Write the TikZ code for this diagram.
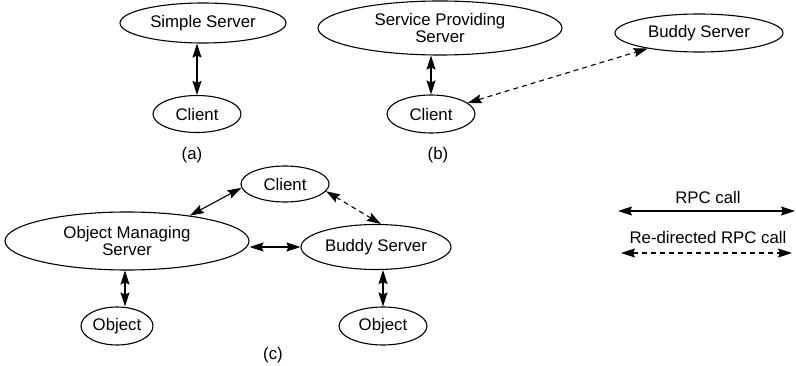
\documentclass[tikz,border=0pt]{standalone}
\usepackage{fontspec}
\setmainfont{Liberation Sans}
\usetikzlibrary{arrows.meta,shapes.geometric}
\begin{document}
\begin{tikzpicture}[x=1pt,y=-1pt,
  every node/.style={font=\fontsize{16.8}{15}\selectfont, inner sep=0pt},
  ell/.style={draw, ellipse, line width=1.1pt, align=center},
  rpc/.style={line width=1.1pt, {Stealth[length=14pt,width=9pt,inset=2pt]}-{Stealth[length=14pt,width=9pt,inset=2pt]}},
  redir/.style={rpc, dash pattern=on 5pt off 4pt}]
\useasboundingbox (0,0) rectangle (796,366);
% (a)
\node[ell, minimum width=166, minimum height=40] (ss) at (203,23) {Simple Server};
\node[ell, minimum width=88, minimum height=37] (ca) at (197,114) {Client};
\node (la) at (192,155) {(a)};
\draw[rpc] (ca.north) -- (ca.north |- ss.south);
% (b)
\node[ell, minimum width=244, minimum height=54] (sps) at (440,28) {Service Providing\\Server};
\node[ell, minimum width=168, minimum height=38] (bb) at (699,33) {Buddy Server};
\node[ell, minimum width=88, minimum height=38] (cb) at (431,114) {Client};
\node (lb) at (438,155) {(b)};
\draw[rpc] (cb.north) -- (cb.north |- sps.south);
\draw[redir] (cb) -- (bb);
% (c)
\node[ell, minimum width=88, minimum height=36] (cc) at (285,184) {Client};
\node[ell, minimum width=244, minimum height=58] (oms) at (127,241) {Object Managing\\Server};
\node[ell, minimum width=150, minimum height=45] (bc) at (376,247) {Buddy Server};
\node[ell, minimum width=72, minimum height=38] (o1) at (117,326) {Object};
\node[ell, minimum width=88, minimum height=38] (o2) at (383,326) {Object};
\node (lc) at (273,355) {(c)};
\draw[rpc] (cc.185) -- (oms.22);
\draw[redir] (cc.-10) -- (bc.78);
\draw[rpc] (bc.west) -- (bc.west -| oms.east);
\draw[rpc] ([xshift=8pt]o1.north) -- ([xshift=8pt]o1.north |- oms.south);
\draw[rpc] (o2.north) -- (o2.north |- bc.south);
% legend
\node (t1) at (708,197) {RPC call};
\node (t2) at (708,237) {Re-directed RPC call};
\coordinate (l1a) at (618,211);
\coordinate (l1b) at (795,211);
\coordinate (l2a) at (621,253);
\coordinate (l2b) at (792,253);
\draw[rpc] (l1a) -- (l1b);
\draw[redir] (l2a) -- (l2b);
\end{tikzpicture}
\end{document}
